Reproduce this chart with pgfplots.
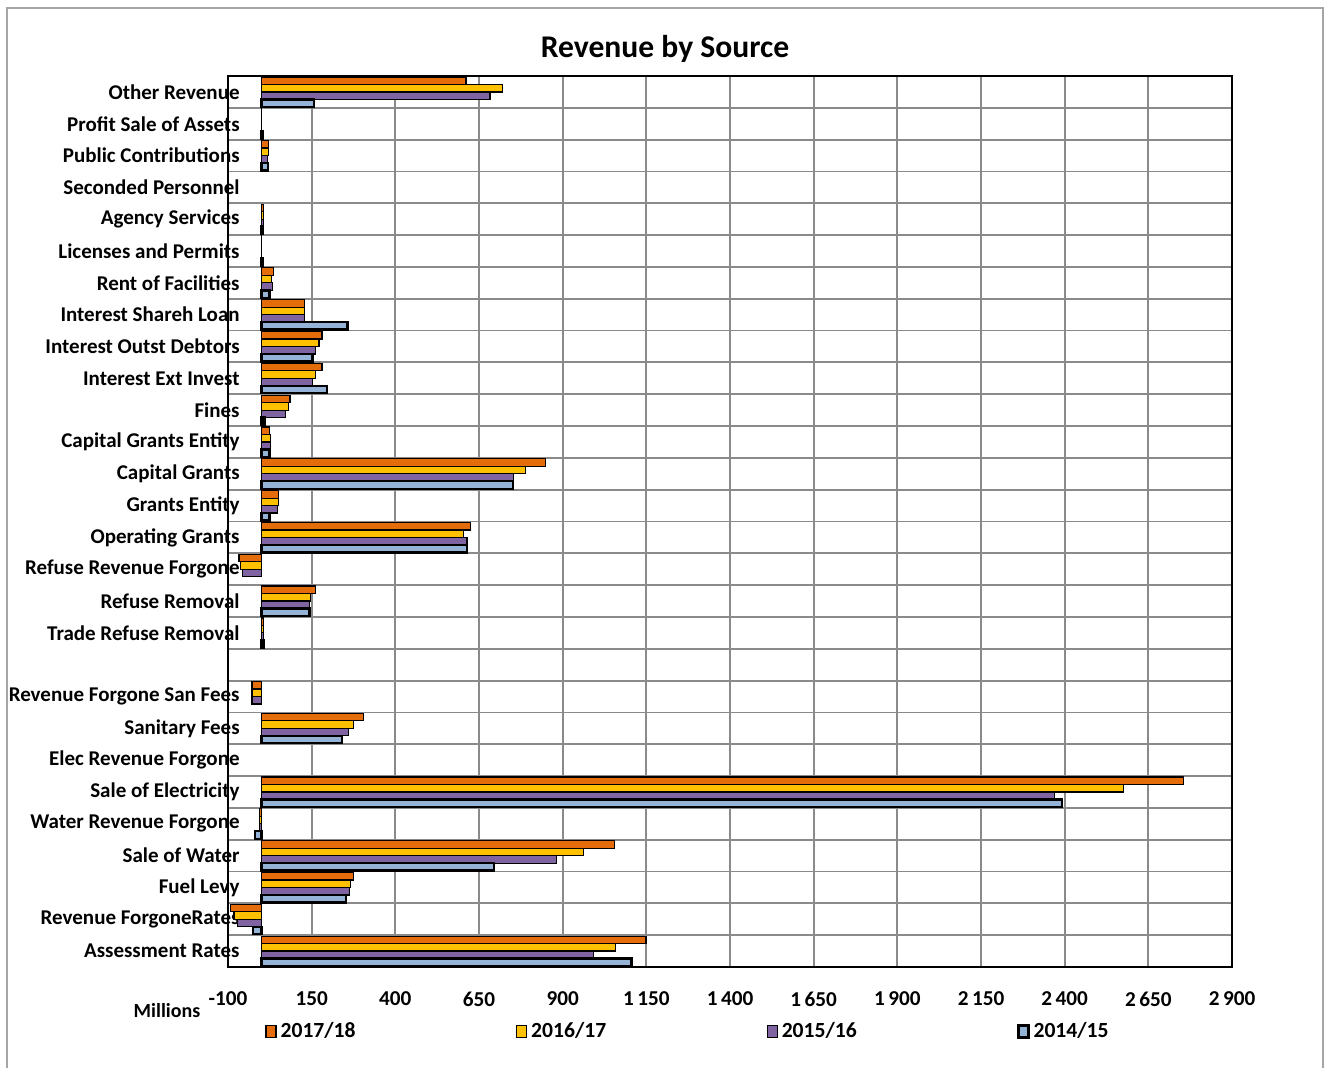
\documentclass[border=0pt]{standalone}
\usepackage{fontspec}
\setmainfont{Carlito}
\usepackage{pgfplots}
\pgfplotsset{compat=1.18}

\definecolor{cA}{RGB}{228,108,10}   % 2017/18
\definecolor{cB}{RGB}{255,192,0}    % 2016/17
\definecolor{cC}{RGB}{128,100,162}  % 2015/16
\definecolor{cD}{RGB}{149,179,215}  % 2014/15
\definecolor{gridgray}{RGB}{138,138,138}
\definecolor{framegray}{RGB}{165,165,165}

\begin{document}
\begin{tikzpicture}[x=0.5pt,y=0.5pt]
\useasboundingbox (0,0) rectangle (1331,1068);
\draw[framegray, line width=0.8pt] (7,-5) -- (7,1060) -- (1323,1060) -- (1323,-5);
\node[font=\bfseries\fontsize{15.8}{18}\selectfont] at (665,1019) {Revenue by Source};
\node[font=\bfseries\fontsize{10}{12}\selectfont] at (167,57) {Millions};
\begin{axis}[
  at={(114pt,50.5pt)}, anchor=south west,
  scale only axis, width=502pt, height=445.5pt,
  xbar, bar width=0.235,
  xmin=-100, xmax=2900,
  ymin=-0.5, ymax=27.5, y dir=reverse,
  xtick={-100,150,400,650,900,1150,1400,1650,1900,2150,2400,2650,2900},
  xticklabels={-100,150,400,650,900,{1\,150},{1\,400},{1\,650},{1\,900},{2\,150},{2\,400},{2\,650},{2\,900}},
  ytick={0,...,27},
  yticklabels={Other Revenue,Profit Sale of Assets,Public Contributions,Seconded Personnel,Agency Services,Licenses and Permits,Rent of Facilities,Interest Shareh Loan,Interest Outst Debtors,Interest Ext Invest,Fines,Capital Grants Entity,Capital Grants,Grants Entity,Operating Grants,Refuse Revenue Forgone,Refuse Removal,Trade Refuse Removal,{},Revenue Forgone San Fees,Sanitary Fees,Elec Revenue Forgone,Sale of Electricity,Water Revenue Forgone,Sale of Water,Fuel Levy,Revenue ForgoneRates,Assessment Rates},
  minor ytick={-0.5,0.5,...,27.5},
  xmajorgrids, yminorgrids, ymajorgrids=false,
  major grid style={gridgray, line width=0.9pt},
  minor grid style={gridgray, line width=0.9pt},
  major tick length=0pt, minor tick length=0pt,
  axis line style={black, line width=0.8pt},
  xticklabel style={font=\bfseries\fontsize{10.6}{12}\selectfont, yshift=-9pt},
  yticklabel style={font=\bfseries\fontsize{10.5}{12}\selectfont, inner sep=0pt, anchor=east, xshift=6pt},
  legend columns=4,
  legend style={at={(rel axis cs:0.0369,-0.0725)}, anchor=west, draw=none, fill=none,
    inner sep=0pt, font=\bfseries\fontsize{10.8}{12}\selectfont,
    /tikz/every even column/.append style={column sep=78.2pt}},
  legend image code/.code={\draw[#1] (0pt,-3pt) rectangle (5pt,3pt);},
]
% 2017/18
\addplot[fill=cA, draw=black, line width=0.6pt, bar shift=-0.3525] coordinates {
  (611,0) (1,1) (22,2) (7,4) (1,5) (37,6) (128,7) (181,8) (181,9) (85,10)
  (23,11) (848,12) (51,13) (624,14) (-67,15) (162,16) (6,17)
  (-28,19) (304,20) (2756,22) (-7,23) (1054,24) (276,25) (-92,26) (1149,27)};
% 2016/17
\addplot[fill=cB, draw=black, line width=0.6pt, bar shift=-0.1175] coordinates {
  (720,0) (1,1) (22,2) (6,4) (1,5) (31,6) (128,7) (172,8) (162,9) (81,10)
  (27,11) (790,12) (52,13) (604,14) (-62,15) (147,16) (6,17)
  (-28,19) (275,20) (2576,22) (-6,23) (962,24) (267,25) (-82,26) (1058,27)};
% 2015/16
\addplot[fill=cC, draw=black, line width=0.6pt, bar shift=0.1175] coordinates {
  (683,0) (1,1) (18,2) (5,4) (1,5) (32,6) (128,7) (162,8) (153,9) (72,10)
  (28,11) (752,12) (47,13) (614,14) (-57,15) (143,16) (5,17)
  (-28,19) (261,20) (2370,22) (-7,23) (882,24) (263,25) (-72,26) (991,27)};
% 2014/15
\addplot[fill=cD, draw=black, line width=1.2pt, bar shift=0.3525] coordinates {
  (157,0) (4,1) (19,2) (5,4) (4,5) (24,6) (257,7) (152,8) (195,9) (9,10)
  (24,11) (752,12) (24,13) (614,14) (144,16) (8,17)
  (240,20) (2392,22) (-20,23) (695,24) (253,25) (-26,26) (1106,27)};
\legend{2017/18,2016/17,2015/16,2014/15}
\end{axis}
\end{tikzpicture}
\end{document}
